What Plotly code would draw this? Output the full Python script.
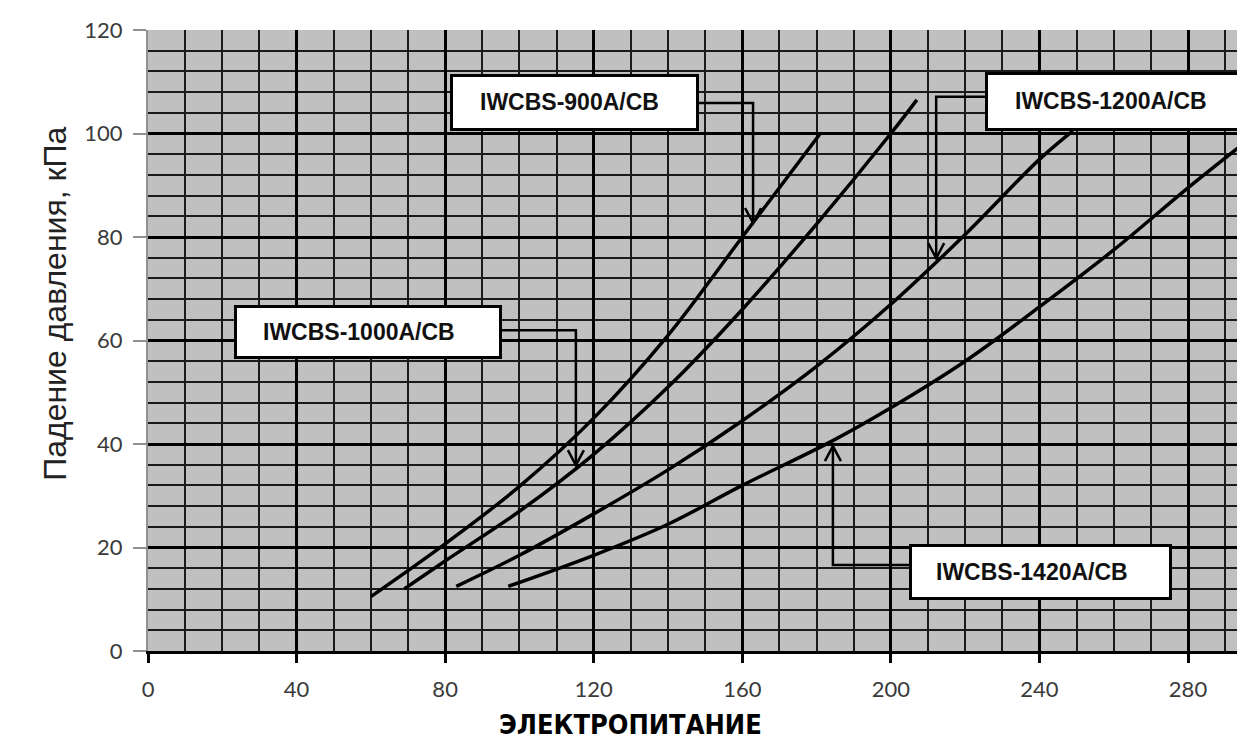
import plotly.graph_objects as go

# ---- data ----
s900_x = [60, 80, 100, 120, 140, 160, 181]
s900_y = [10.5, 20.7, 31.8, 45, 61, 80, 100]

s1000_x = [69, 80, 100, 120, 140, 160, 180, 200, 207]
s1000_y = [12, 17.4, 27, 38, 51, 66, 82.5, 100, 106.5]

s1200_x = [83, 100, 120, 140, 160, 180, 200, 220, 240, 249]
s1200_y = [12.5, 18.5, 26.5, 35, 44.5, 55, 67, 80.5, 95, 100.5]

s1420_x = [97, 120, 140, 160, 184, 200, 220, 240, 260, 280, 294]
s1420_y = [12.5, 18.5, 24.5, 32, 40.5, 47, 56, 66.5, 77.5, 89.5, 97.5]

series_names = ["IWCBS-900A/CB", "IWCBS-1000A/CB", "IWCBS-1200A/CB", "IWCBS-1420A/CB"]
x_ticks = [0, 40, 80, 120, 160, 200, 240, 280]
y_ticks = [0, 20, 40, 60, 80, 100, 120]

fig = go.Figure()
for xs, ys, nm in [(s900_x, s900_y, series_names[0]), (s1000_x, s1000_y, series_names[1]),
                   (s1200_x, s1200_y, series_names[2]), (s1420_x, s1420_y, series_names[3])]:
    fig.add_trace(go.Scatter(x=xs, y=ys, mode="lines", name=nm,
                             line=dict(color="black", width=3.5, shape="spline", smoothing=1),
                             showlegend=False, hoverinfo="skip"))

# label boxes: (name, box center x, y, width px, height px, text xshift)
boxes = [
    (series_names[0], 114.8, 106.0, 247, 55, -5),
    (series_names[1], 59.2, 61.6, 266, 52, -9),
    (series_names[2], 261.2, 106.2, 264, 57, -7),
    (series_names[3], 240.3, 15.3, 261, 54, -9),
]
# connectors: (start, corner, tip, direction)
connectors = [
    ((148.1, 105.9), (162.9, 105.9), (162.9, 82.7), -1),
    ((95.0, 62.0), (115.2, 62.0), (115.2, 35.9), -1),
    ((225.6, 107.1), (212.2, 107.1), (212.2, 75.9), -1),
    ((205.2, 16.6), (184.4, 16.6), (184.4, 39.6), 1),
]

shapes = []
for (sx, sy), (cx, cy), (tx, ty), d in connectors:
    shapes.append(dict(type="path", xref="x", yref="y",
                       path=f"M {sx},{sy} L {cx},{cy} L {tx},{ty}",
                       line=dict(color="black", width=2.5)))
    ay = ty - d * 2.9
    shapes.append(dict(type="path", xref="x", yref="y",
                       path=f"M {tx-2.15},{ay} L {tx},{ty} L {tx+2.15},{ay}",
                       line=dict(color="black", width=2.5)))

annotations = []
for nm, bx, by, bw, bh, xs in boxes:
    annotations.append(dict(x=bx, y=by, xref="x", yref="y", text=" ", showarrow=False,
                            width=bw - 4, height=bh - 4, bgcolor="white",
                            bordercolor="black", borderwidth=3, borderpad=0))
    annotations.append(dict(x=bx, y=by, xref="x", yref="y", text=nm, showarrow=False,
                            xshift=xs, font=dict(family="Liberation Sans, Arial", size=23,
                                                 color="#111111", weight="bold")))

annotations.append(dict(text="Падение давления, кПа", xref="paper", yref="paper",
                        x=-0.1023, y=0.559, textangle=-90, showarrow=False,
                        font=dict(family="Liberation Sans, Arial", size=32, color="#222222")))
annotations.append(dict(text="ЭЛЕКТРОПИТАНИЕ", xref="paper", yref="paper",
                        x=0.437, y=-0.147, showarrow=False,
                        font=dict(family="DejaVu Sans Condensed", size=27,
                                  color="black", weight="bold")))

tick_font = dict(family="Lato, Open Sans", size=22, color="#3a3a3a")

fig.update_layout(
    width=1245, height=749,
    margin=dict(l=140, r=0, t=22, b=106),
    paper_bgcolor="white", plot_bgcolor="#c0c0c0",
    shapes=shapes, annotations=annotations,
    xaxis=dict(range=[0, 297.5], tickmode="array", tickvals=x_ticks,
               ticktext=[str(v) for v in x_ticks],
               showgrid=True, gridcolor="black", gridwidth=3,
               minor=dict(dtick=10, tick0=0, showgrid=True, gridcolor="#1a1a1a", gridwidth=2),
               ticks="outside", ticklen=9, tickwidth=3, tickcolor="black",
               showline=True, linecolor="black", linewidth=3,
               zeroline=False, tickfont=tick_font, ticklabelstandoff=8),
    yaxis=dict(range=[0, 120], tickmode="array", tickvals=y_ticks,
               ticktext=[str(v) for v in y_ticks],
               showgrid=True, gridcolor="black", gridwidth=3,
               minor=dict(dtick=4, tick0=0, showgrid=True, gridcolor="#1a1a1a", gridwidth=2),
               ticks="outside", ticklen=13, tickwidth=2, tickcolor="#909090",
               showline=True, linecolor="#909090", linewidth=2,
               zeroline=False, tickfont=tick_font, ticklabelstandoff=6),
)

fig.write_html("out.html")
